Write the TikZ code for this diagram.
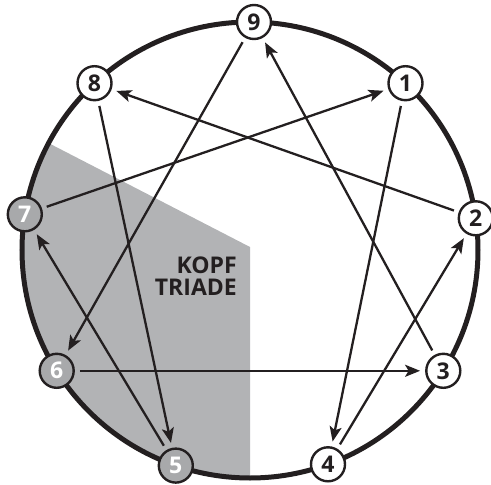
\documentclass[tikz,border=0pt]{standalone}
\usepackage{fontspec}
\setmainfont{Open Sans}
\usetikzlibrary{arrows.meta}
\definecolor{ink}{RGB}{35,31,32}
\definecolor{regiongray}{RGB}{178,179,181}
\definecolor{nodegray}{RGB}{168,169,171}
\begin{document}
\begin{tikzpicture}[x=1pt,y=-1pt,
  num/.style={circle,draw=ink,line width=2.4pt,minimum size=34pt,inner sep=0pt,fill=white,text=ink,font=\bfseries\fontsize{23}{23}\selectfont},
  numg/.style={num,fill=nodegray,text=white},
  link/.style={draw=ink,line width=2.3pt,-{Stealth[length=15pt,width=12pt,inset=3.5pt]},shorten >=5pt,shorten <=5pt},
  label/.style={text=ink,font=\bfseries\fontsize{23}{23}\selectfont,anchor=base east,inner sep=0pt}]
\useasboundingbox (0,0) rectangle (491,485);
\begin{scope}
  \clip (250,250) circle (228pt);
  \fill[regiongray] (0,118) -- (250,247) -- (250,490) -- (0,490) -- cycle;
\end{scope}
\draw[ink,line width=5pt] (250,250) circle (228pt);
\node[label] (kopf) at (237,273) {KOPF};
\node[label] (triade) at (237,295) {TRIADE};
\node[num]  (n9) at (254,22) {9};
\node[num]  (n1) at (405.5,83.2) {1};
\node[num]  (n2) at (475.8,218.3) {2};
\node[num]  (n3) at (443.3,370.8) {3};
\node[num]  (n4) at (328,464.3) {4};
\node[numg] (n5) at (175.8,465.6) {5};
\node[numg] (n6) at (56.7,370.8) {6};
\node[numg] (n7) at (24.8,214.3) {7};
\node[num]  (n8) at (94.5,83.2) {8};
\draw[link] (n7) -- (n1);
\draw[link] (n1) -- (n4);
\draw[link] (n4) -- (n2);
\draw[link] (n2) -- (n8);
\draw[link] (n8) -- (n5);
\draw[link] (n5) -- (n7);
\draw[link] (n9) -- (n6);
\draw[link] (n6) -- (n3);
\draw[link] (n3) -- (n9);
\end{tikzpicture}
\end{document}
